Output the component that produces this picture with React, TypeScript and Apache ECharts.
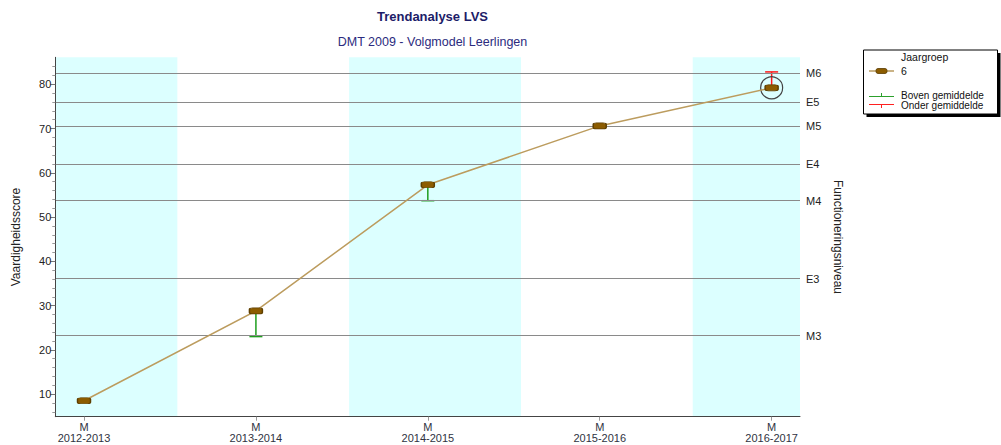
import React, { useEffect, useRef } from "react";
import * as echarts from "echarts";

const categories = ["2012-2013", "2013-2014", "2014-2015", "2015-2016", "2016-2017"];
const categoryLevel = ["M", "M", "M", "M", "M"];
const scores = [8.5, 28.8, 57.3, 70.6, 79.2];
const bovenGemiddelde = [null, 23.0, 53.7, null, null];
const onderGemiddelde = [null, null, null, null, 82.8];
const levelNames = ["M3", "E3", "M4", "E4", "M5", "E5", "M6"];
const levelValues = [23.2, 36.1, 53.7, 62.0, 70.6, 75.9, 82.5];
const yLabels = [10, 20, 30, 40, 50, 60, 70, 80];
const yMinorTicks = [6, 8, 12, 14, 16, 18, 22, 24, 26, 28, 32, 34, 36, 38, 42, 44, 46, 48, 52, 54, 56, 58, 62, 64, 66, 68, 72, 74, 76, 78, 82, 84];
const bands = [
  [-0.167, 0.543],
  [1.542, 2.542],
  [3.541, 4.165],
];
const highlightIndex = 4;

const Y_MIN = 4.9;
const Y_MAX = 86.1;
const X_MIN = -0.167;
const X_MAX = 4.165;

const FONT = "'Liberation Sans', Arial, sans-serif";

function makeErrorSeries(name: string, ends: (number | null)[], color: string) {
  const data: number[][] = [];
  ends.forEach((e, i) => {
    if (e !== null) data.push([i, scores[i], e]);
  });
  return {
    type: "custom",
    name,
    z: 3,
    data,
    renderItem: (params: any, api: any) => {
      const x = api.value(0);
      const p0 = api.coord([x, api.value(1)]);
      const p1 = api.coord([x, api.value(2)]);
      const half = 6.5;
      return {
        type: "group",
        children: [
          {
            type: "line",
            shape: { x1: p0[0], y1: p0[1], x2: p1[0], y2: p1[1] },
            style: { stroke: color, lineWidth: 1.5 },
          },
          {
            type: "line",
            shape: { x1: p1[0] - half, y1: p1[1], x2: p1[0] + half, y2: p1[1] },
            style: { stroke: color, lineWidth: 1.5 },
          },
        ],
      };
    },
  };
}

export default function App() {
  const ref = useRef<HTMLDivElement>(null);
  useEffect(() => {
    document.body.style.margin = "0";
    if (!ref.current) return;
    const chart = echarts.init(ref.current, undefined, { renderer: "svg" });
    const legendText = { fontSize: 10, lineHeight: 9, fill: "#111", fontFamily: FONT, verticalAlign: "middle" };
    const option: any = {
      animation: false,
      textStyle: { fontFamily: FONT },
      title: [
        {
          text: "Trendanalyse LVS",
          left: 427.5,
          top: 5,
          textAlign: "center",
          textStyle: { fontSize: 13, fontWeight: "bold", color: "#1c1c68", fontFamily: FONT },
        },
        {
          text: "DMT 2009 - Volgmodel Leerlingen",
          left: 427.5,
          top: 30,
          textAlign: "center",
          textStyle: { fontSize: 12.5, fontWeight: "normal", color: "#2b2b7e", fontFamily: FONT },
        },
      ],
      grid: { left: 55.3, right: 201, top: 57.3, bottom: 28.3, containLabel: false },
      xAxis: {
        type: "value",
        min: X_MIN,
        max: X_MAX,
        z: 10,
        splitLine: { show: false },
        axisLine: { show: true, onZero: false, lineStyle: { color: "#444", width: 1 } },
        axisTick: { show: true, length: 4, customValues: [0, 1, 2, 3, 4], lineStyle: { color: "#999" } },
        axisLabel: {
          customValues: [0, 1, 2, 3, 4],
          margin: 5,
          fontSize: 11,
          lineHeight: 11,
          color: "#2f3342",
          fontFamily: FONT,
          formatter: (v: number) => {
            const i = Math.round(v);
            return categoryLevel[i] + "\n" + categories[i];
          },
        },
      },
      yAxis: [
        {
          type: "value",
          min: Y_MIN,
          max: Y_MAX,
          position: "left",
          z: 10,
          name: "Vaardigheidsscore",
          nameLocation: "middle",
          nameGap: 33,
          nameRotate: 90,
          nameTextStyle: { fontSize: 12, color: "#222", fontFamily: FONT },
          splitLine: { show: false },
          axisLine: { show: true, onZero: false, lineStyle: { color: "#444", width: 1 } },
          axisTick: { show: true, length: 5, customValues: yLabels, lineStyle: { color: "#777" } },
          axisLabel: { customValues: yLabels, margin: 4, fontSize: 11, color: "#222", fontFamily: FONT },
        },
        {
          type: "value",
          min: Y_MIN,
          max: Y_MAX,
          position: "right",
          z: 10,
          name: "Functioneringsniveau",
          nameLocation: "middle",
          nameGap: 25,
          nameRotate: -90,
          nameTextStyle: { fontSize: 12, color: "#222", fontFamily: FONT },
          splitLine: { show: false },
          axisLine: { show: false, onZero: false },
          axisTick: { show: false },
          axisLabel: {
            customValues: levelValues,
            margin: 6,
            fontSize: 11,
            color: "#222",
            fontFamily: FONT,
            formatter: (v: number) => {
              let best = 0;
              levelValues.forEach((lv, i) => {
                if (Math.abs(lv - v) < Math.abs(levelValues[best] - v)) best = i;
              });
              return levelNames[best];
            },
          },
        },
        {
          type: "value",
          min: Y_MIN,
          max: Y_MAX,
          position: "left",
          z: 10,
          splitLine: { show: false },
          axisLine: { show: false, onZero: false },
          axisTick: { show: true, length: 3, customValues: yMinorTicks, lineStyle: { color: "#999" } },
          axisLabel: { show: false },
        },
      ],
      graphic: [
        { type: "rect", shape: { x: 866.5, y: 53, width: 134, height: 64 }, style: { fill: "#000" }, z: 10 },
        { type: "rect", shape: { x: 863.5, y: 50, width: 134, height: 64 }, style: { fill: "#fff", stroke: "#000", lineWidth: 1 }, z: 11 },
        { type: "line", shape: { x1: 869, y1: 71, x2: 894, y2: 71 }, style: { stroke: "#b89a5e", lineWidth: 1.5 }, z: 12 },
        { type: "rect", shape: { x: 876, y: 68.5, width: 11, height: 5, r: 2 }, style: { fill: "#8c5c00", stroke: "#5a3c00", lineWidth: 0.8 }, z: 13 },
        { type: "text", x: 901, y: 57, style: { ...legendText, fontSize: 10.5, text: "Jaargroep" }, z: 12 },
        { type: "text", x: 901, y: 71, style: { ...legendText, fontSize: 10.5, text: "6" }, z: 12 },
        { type: "line", shape: { x1: 869, y1: 96.5, x2: 894, y2: 96.5 }, style: { stroke: "#2ca02c", lineWidth: 1 }, z: 12 },
        { type: "line", shape: { x1: 881.5, y1: 93, x2: 881.5, y2: 96.5 }, style: { stroke: "#2ca02c", lineWidth: 1 }, z: 12 },
        { type: "text", x: 901, y: 95, style: { ...legendText, text: "Boven gemiddelde" }, z: 12 },
        { type: "line", shape: { x1: 869, y1: 104.5, x2: 894, y2: 104.5 }, style: { stroke: "#ff2020", lineWidth: 1 }, z: 12 },
        { type: "line", shape: { x1: 881.5, y1: 104.5, x2: 881.5, y2: 108 }, style: { stroke: "#ff2020", lineWidth: 1 }, z: 12 },
        { type: "text", x: 901, y: 105.5, style: { ...legendText, text: "Onder gemiddelde" }, z: 12 },
      ],
      series: [
        {
          type: "line",
          name: "bands",
          data: [],
          z: 1,
          silent: true,
          markArea: {
            silent: true,
            itemStyle: { color: "#dcffff" },
            data: bands.map((b) => [{ xAxis: b[0] }, { xAxis: b[1] }]),
          },
          markLine: {
            silent: true,
            symbol: "none",
            label: { show: false },
            lineStyle: { color: "#8a8a8a", type: "solid", width: 1 },
            data: levelValues.map((v) => ({ yAxis: v })),
          },
        },
        makeErrorSeries("Boven gemiddelde", bovenGemiddelde, "#1e9e1e"),
        makeErrorSeries("Onder gemiddelde", onderGemiddelde, "#ff1a1a"),
        {
          type: "line",
          name: "Jaargroep 6",
          z: 5,
          data: scores.map((v, i) => [i, v]),
          symbol: "roundRect",
          symbolSize: [13, 6],
          lineStyle: { color: "#bc9c5e", width: 1.5 },
          itemStyle: { color: "#8c5c00", borderColor: "#5e3f00", borderWidth: 1 },
          markPoint: {
            silent: true,
            symbol: "circle",
            symbolSize: 22,
            label: { show: false },
            itemStyle: { color: "rgba(0,0,0,0)", borderColor: "#444", borderWidth: 1.2 },
            data: [{ coord: [highlightIndex, scores[highlightIndex]] }],
          },
        },
      ],
    };
    chart.setOption(option);
    return () => chart.dispose();
  }, []);
  return <div ref={ref} style={{ width: 1001, height: 445 }} />;
}
